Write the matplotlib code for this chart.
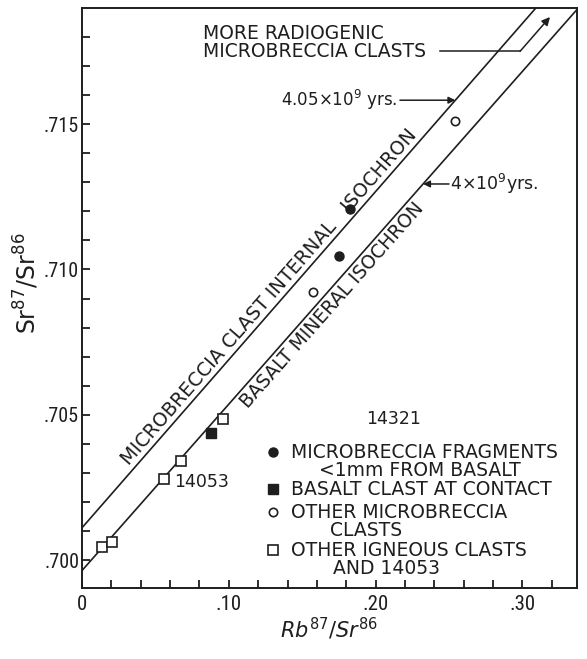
import numpy as np
import matplotlib
matplotlib.use("Agg")
import matplotlib.pyplot as plt
from matplotlib import font_manager

# ---------------- data ----------------
# filled circles: microbreccia fragments <1mm from basalt
frag_x = [0.1826, 0.1751]
frag_y = [0.71208, 0.71046]
# filled square: basalt clast at contact
contact_x = [0.0877]
contact_y = [0.70437]
# open circles: other microbreccia clasts
micro_x = [0.1576, 0.2543]
micro_y = [0.70924, 0.71510]
# open squares: other igneous clasts and 14053
ign_x = [0.0138, 0.0206, 0.0561, 0.0672, 0.0963]
ign_y = [0.70047, 0.70063, 0.70279, 0.70340, 0.70485]

# isochrons (initial ratio, slope)
micro_iso = (0.70112, 0.0578)   # 4.05 x 10^9 yrs
basalt_iso = (0.69965, 0.0572)  # 4 x 10^9 yrs

xticks = [0.0, 0.10, 0.20, 0.30]
xticklabels = ['0', '.10', '.20', '.30']
yticks = [0.700, 0.705, 0.710, 0.715]
yticklabels = ['.700', '.705', '.710', '.715']

XLIM = (0.0, 0.3372)
YLIM = (0.69904, 0.71899)

INK = '#1e1e1e'
plt.rcParams['font.family'] = ['DejaVu Sans']

avail = {f.name for f in font_manager.fontManager.ttflist}
NARROW = 'DejaVu Sans'
for cand in ['Liberation Sans Narrow', 'DejaVu Sans Condensed', 'Roboto Condensed', 'Open Sans Condensed']:
    if cand in avail:
        NARROW = cand
        break

FS = 13.5

fig = plt.figure(figsize=(5.87, 6.59), dpi=100)
ax = fig.add_axes([82/587, 1-588.3/659, 495/587, 580.3/659])
ax.set_xlim(*XLIM)
ax.set_ylim(*YLIM)

for s in ax.spines.values():
    s.set_linewidth(1.4)
    s.set_color(INK)

ax.set_xticks(xticks)
ax.set_xticklabels(xticklabels, fontfamily=NARROW, fontsize=15, color=INK)
ax.set_yticks(yticks)
ax.set_yticklabels(yticklabels, fontfamily=NARROW, fontsize=14.5, color=INK)
ax.set_xticks(np.arange(0.02, 0.33, 0.02), minor=True)
ax.set_yticks(np.arange(0.700, 0.7185, 0.001), minor=True)
ax.tick_params(which='both', direction='in', length=6, width=1.3, color=INK,
               top=False, right=False)
ax.tick_params(axis='y', which='major', pad=2)
ax.tick_params(axis='x', which='major', pad=5)

ax.set_xlabel('$Rb^{87}/Sr^{86}$', fontsize=15, color=INK, labelpad=1)
ax.set_ylabel('$\\mathregular{Sr^{87}/Sr^{86}}$', fontsize=17, color=INK)
ax.yaxis.set_label_coords((41 - 82) / 495.0, (588.3 - 283) / 580.3)

# isochron lines
xx = np.array(XLIM)
for a, b in (micro_iso, basalt_iso):
    ax.plot(xx, a + b*xx, color=INK, lw=1.2, zorder=2)

# data points
ax.plot(frag_x, frag_y, 'o', ms=6.5, color=INK, zorder=3)
ax.plot(contact_x, contact_y, 's', ms=7, color=INK, zorder=3)
ax.plot(micro_x, micro_y, 'o', ms=6, mfc='white', mec=INK, mew=1.2, zorder=3)
ax.plot(ign_x, ign_y, 's', ms=7.5, mfc='white', mec=INK, mew=1.2, zorder=3)

ax.text(0.0625, 0.70268, '14053', fontsize=12.5, color=INK, va='center', ha='left')

# rotated isochron labels
ang_u = np.degrees(np.arctan(micro_iso[1]))
ang_b = np.degrees(np.arctan(basalt_iso[1]))
ax.text(0.1275, 0.70906, 'MICROBRECCIA CLAST INTERNAL   ISOCHRON', rotation=ang_u,
        transform_rotates_text=True, rotation_mode='anchor', ha='center', va='center',
        fontsize=13.8, color=INK)
ax.text(0.1703, 0.70878, 'BASALT MINERAL ISOCHRON', rotation=ang_b,
        transform_rotates_text=True, rotation_mode='anchor', ha='center', va='center',
        fontsize=13.5, color=INK)

# age annotations
y1 = 0.71582
ax.text(0.2146, y1, '4.05$\\times$10$^{9}$ yrs.', ha='right', va='center', fontsize=12, color=INK)
ax.annotate('', xy=((y1-micro_iso[0])/micro_iso[1], y1), xytext=(0.2166, y1),
            arrowprops=dict(arrowstyle='-|>', color=INK, lw=1.1, mutation_scale=10,
                            shrinkA=0, shrinkB=0))
y2 = 0.71294
ax.text(0.2510, y2, '4$\\times$10$^{9}$yrs.', ha='left', va='center', fontsize=12.5, color=INK)
ax.annotate('', xy=((y2-basalt_iso[0])/basalt_iso[1], y2), xytext=(0.2500, y2),
            arrowprops=dict(arrowstyle='-|>', color=INK, lw=1.1, mutation_scale=10,
                            shrinkA=0, shrinkB=0))

# more radiogenic note
ax.text(0.0822, 0.71813, 'MORE RADIOGENIC', ha='left', va='center', fontsize=FS, color=INK)
ax.text(0.0822, 0.71750, 'MICROBRECCIA CLASTS', ha='left', va='center', fontsize=FS, color=INK)
ax.plot([0.2440, 0.2984], [0.71750, 0.71750], color=INK, lw=1.1)
ax.annotate('', xy=(0.3188, 0.71868), xytext=(0.2984, 0.71750),
            arrowprops=dict(arrowstyle='-|>', color=INK, lw=1.1, mutation_scale=12,
                            shrinkA=0, shrinkB=0))

# legend (axes-fraction positions)
def fx(px):
    return (px - 82) / 495.0
def fy(py):
    return (588.3 - py) / 580.3

T = ax.transAxes
ax.text(fx(394), fy(419), '14321', transform=T, ha='center', va='center', fontsize=12.5, color=INK)
ax.plot([fx(273)], [fy(452)], 'o', ms=6.5, color=INK, transform=T, clip_on=False)
ax.text(fx(291), fy(452), 'MICROBRECCIA FRAGMENTS', transform=T, ha='left', va='center', fontsize=FS, color=INK)
ax.text(fx(319), fy(470), '<1mm FROM BASALT', transform=T, ha='left', va='center', fontsize=FS, color=INK)
ax.plot([fx(273)], [fy(489)], 's', ms=7, color=INK, transform=T, clip_on=False)
ax.text(fx(291), fy(489.5), 'BASALT CLAST AT CONTACT', transform=T, ha='left', va='center', fontsize=FS, color=INK)
ax.plot([fx(273)], [fy(512)], 'o', ms=6, mfc='white', mec=INK, mew=1.2, transform=T, clip_on=False)
ax.text(fx(291), fy(512.5), 'OTHER MICROBRECCIA', transform=T, ha='left', va='center', fontsize=FS, color=INK)
ax.text(fx(330), fy(530), 'CLASTS', transform=T, ha='left', va='center', fontsize=FS, color=INK)
ax.plot([fx(273)], [fy(550)], 's', ms=7.5, mfc='white', mec=INK, mew=1.2, transform=T, clip_on=False)
ax.text(fx(291), fy(550.5), 'OTHER IGNEOUS CLASTS', transform=T, ha='left', va='center', fontsize=FS, color=INK)
ax.text(fx(333), fy(568), 'AND 14053', transform=T, ha='left', va='center', fontsize=FS, color=INK)

fig.savefig('out.png', dpi=100)
